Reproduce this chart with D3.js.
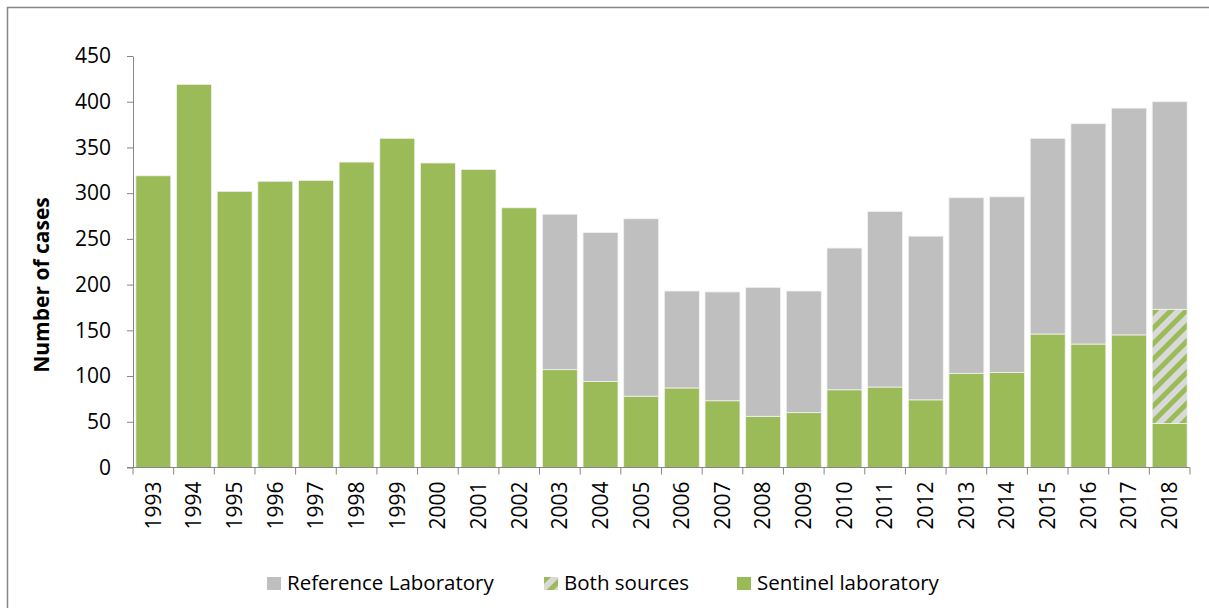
<!DOCTYPE html>
<html>
<head>
<meta charset="utf-8">
<script src="https://cdn.jsdelivr.net/npm/d3@7"></script>
<style>
  body { margin: 0; background: #fff; }
  text { font-family: "Open Sans", "Liberation Sans", sans-serif; fill: #000; }
</style>
</head>
<body>
<div id="chart"></div>
<script>
var w = 1209;
var h = 608;

// years on the x axis
var years = ["1993", "1994", "1995", "1996", "1997", "1998", "1999", "2000", "2001",
  "2002", "2003", "2004", "2005", "2006", "2007", "2008", "2009", "2010", "2011",
  "2012", "2013", "2014", "2015", "2016", "2017", "2018"];

// cases per source
var sentinel = [319, 419, 302, 313, 314, 334, 360, 333, 326, 284, 107, 94, 78, 87, 73,
  56, 60, 85, 88, 74, 103, 104, 146, 135, 145, 48];
var both = [0, 0, 0, 0, 0, 0, 0, 0, 0, 0, 0, 0, 0, 0, 0, 0, 0, 0, 0, 0, 0, 0, 0, 0, 0, 125];
var reference = [0, 0, 0, 0, 0, 0, 0, 0, 0, 0, 170, 163, 194, 106, 119, 141, 133, 155,
  192, 179, 192, 192, 214, 241, 248, 227];

var yTicks = [0, 50, 100, 150, 200, 250, 300, 350, 400, 450];

var keys = ["sentinel", "both", "reference"];
var colors = { sentinel: "#9BBB59", both: "url(#hatch)", reference: "#BFBFBF" };
var legendNames = { reference: "Reference Laboratory", both: "Both sources", sentinel: "Sentinel laboratory" };

var table = years.map(function(y, i) {
  return { year: y, sentinel: sentinel[i], both: both[i], reference: reference[i] };
});

var svg = d3.select("#chart").append("svg")
  .attr("width", w)
  .attr("height", h);

// hatch for "Both sources"
var pat = svg.append("defs").append("pattern")
  .attr("id", "hatch")
  .attr("patternUnits", "userSpaceOnUse")
  .attr("width", 11)
  .attr("height", 11)
  .attr("patternTransform", "rotate(45)");
pat.append("rect").attr("width", 11).attr("height", 11).attr("fill", "#D9D9D9");
pat.append("rect").attr("width", 5).attr("height", 11).attr("fill", "#9BBB59");

// outer frame
svg.append("rect")
  .attr("x", 7.5).attr("y", 7.5)
  .attr("width", w).attr("height", h)
  .attr("fill", "none")
  .attr("stroke", "#868686")
  .attr("stroke-width", 1.5);

var pLeft = 133, pRight = 1190, pTop = 56, pBottom = 467.5;

var x = d3.scaleBand().domain(years).range([pLeft, pRight]).paddingInner(0.14).paddingOuter(0.07);
var y = d3.scaleLinear().domain([0, 450]).range([pBottom, pTop]);

var stack = d3.stack().keys(keys)(table);

svg.append("g").selectAll("g")
  .data(stack)
  .enter().append("g")
  .attr("fill", function(d) { return colors[d.key]; })
  .selectAll("rect")
  .data(function(d) { return d.filter(function(v) { return v[1] > v[0]; }); })
  .enter().append("rect")
  .attr("x", function(d) { return x(d.data.year); })
  .attr("y", function(d) { return y(d[1]); })
  .attr("width", x.bandwidth())
  .attr("height", function(d) { return y(d[0]) - y(d[1]); })
  .attr("stroke", "#f2f2f2")
  .attr("stroke-width", 0.8);

// y axis
var yAxis = svg.append("g")
  .attr("transform", "translate(" + pLeft + ",0)")
  .call(d3.axisLeft(y).tickValues(yTicks).tickSize(6).tickPadding(16).tickSizeOuter(0));
yAxis.selectAll("text").style("font-size", "21px");

// x axis, ticks between the bars
var xAxis = svg.append("g")
  .attr("transform", "translate(0," + pBottom + ")")
  .call(d3.axisBottom(x).tickSize(0).tickPadding(0));
xAxis.select(".domain").remove();
xAxis.selectAll("text")
  .style("font-size", "21px")
  .attr("text-anchor", "end")
  .attr("dy", "0.35em")
  .attr("transform", "translate(0,14) rotate(-90)");

var step = x.step();
var bounds = years.map(function(yr) { return x(yr) - x.paddingInner() * step / 2; });
bounds.push(pRight);
svg.append("g").selectAll("line")
  .data(bounds)
  .enter().append("line")
  .attr("x1", function(d) { return d; })
  .attr("x2", function(d) { return d; })
  .attr("y1", pBottom)
  .attr("y2", pBottom + 7)
  .attr("stroke", "#868686");
svg.append("line")
  .attr("x1", pLeft - 6).attr("x2", pRight)
  .attr("y1", pBottom).attr("y2", pBottom)
  .attr("stroke", "#868686");

svg.selectAll(".domain, .tick line").attr("stroke", "#868686");

// y title
svg.append("text")
  .attr("transform", "translate(49,285) rotate(-90)")
  .attr("text-anchor", "middle")
  .style("font-size", "21px")
  .style("font-weight", "bold")
  .text("Number of cases");

// legend
var legendX = { reference: 267, both: 544, sentinel: 737 };
var lg = svg.append("g").selectAll("g")
  .data(["reference", "both", "sentinel"])
  .enter().append("g")
  .attr("transform", function(d) { return "translate(" + legendX[d] + ",577)"; });
lg.append("rect")
  .attr("width", 14).attr("height", 13)
  .attr("fill", function(d) { return colors[d]; });
lg.append("text")
  .attr("x", 20).attr("y", 6)
  .attr("dy", "0.35em")
  .style("font-size", "20.5px")
  .text(function(d) { return legendNames[d]; });
</script>
</body>
</html>
